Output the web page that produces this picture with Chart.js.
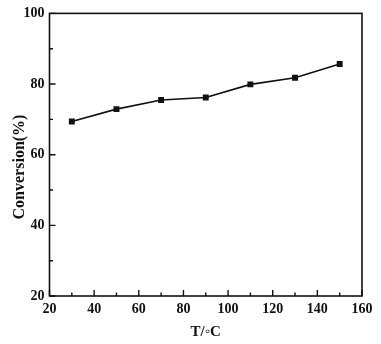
<!DOCTYPE html>
<html>
<head>
<meta charset="utf-8">
<script src="https://cdn.jsdelivr.net/npm/chart.js@4"></script>
<style>
  html, body { margin: 0; padding: 0; background: #fff; }
  #wrap { width: 381px; height: 344px; }
</style>
</head>
<body>
<div id="wrap"><canvas id="myChart"></canvas></div>
<script>
const temps = [30, 50, 70, 90, 110, 130, 150];
const conversion = [69.4, 72.9, 75.5, 76.2, 79.9, 81.8, 85.7];
const xTicks = [20, 40, 60, 80, 100, 120, 140, 160];
const yTicks = [20, 40, 60, 80, 100];
const xMinor = [30, 50, 70, 90, 110, 130, 150];
const yMinor = [30, 50, 70, 90];

const FONT = "'Liberation Serif', 'Times New Roman', serif";

// frame, inward ticks and axis titles
const framePlugin = {
  id: "frame",
  afterDraw(chart) {
    const { ctx, chartArea: a, scales } = chart;
    const x = scales.x, y = scales.y;
    ctx.save();
    ctx.strokeStyle = "#111";
    ctx.lineWidth = 1.6;
    ctx.strokeRect(a.left, a.top, a.right - a.left, a.bottom - a.top);

    ctx.lineWidth = 1.4;
    ctx.beginPath();
    xTicks.forEach((v) => {
      const px = x.getPixelForValue(v);
      ctx.moveTo(px, a.bottom);
      ctx.lineTo(px, a.bottom - 6);
    });
    xMinor.forEach((v) => {
      const px = x.getPixelForValue(v);
      ctx.moveTo(px, a.bottom);
      ctx.lineTo(px, a.bottom - 3.5);
    });
    yTicks.forEach((v) => {
      const py = y.getPixelForValue(v);
      ctx.moveTo(a.left, py);
      ctx.lineTo(a.left + 6, py);
    });
    yMinor.forEach((v) => {
      const py = y.getPixelForValue(v);
      ctx.moveTo(a.left, py);
      ctx.lineTo(a.left + 3.5, py);
    });
    ctx.stroke();

    ctx.fillStyle = "#111";
    ctx.textAlign = "center";
    ctx.textBaseline = "middle";
    ctx.font = "bold 15px " + FONT;
    ctx.fillText("T/\u25E6C", (a.left + a.right) / 2, 332);

    ctx.translate(20, 167);
    ctx.rotate(-Math.PI / 2);
    ctx.font = "bold 16px " + FONT;
    ctx.fillText("Conversion(%)", 0, 0);
    ctx.restore();
  },
};

new Chart(document.getElementById("myChart"), {
  type: "scatter",
  data: {
    datasets: [
      {
        data: temps.map((t, i) => ({ x: t, y: conversion[i] })),
        showLine: true,
        borderColor: "#111",
        borderWidth: 1.6,
        backgroundColor: "#111",
        pointStyle: "rect",
        pointRadius: 4.2,
        pointBorderWidth: 0,
      },
    ],
  },
  options: {
    responsive: true,
    maintainAspectRatio: false,
    animation: false,
    layout: { padding: { left: 0, right: 19, top: 12.5, bottom: 0 } },
    plugins: { legend: { display: false }, tooltip: { enabled: false } },
    scales: {
      x: {
        type: "linear",
        min: 20,
        max: 160,
        afterBuildTicks: (s) => { s.ticks = xTicks.map((v) => ({ value: v })); },
        afterFit: (s) => { s.height = 48; },
        grid: { display: false, drawTicks: false },
        border: { display: false },
        ticks: { color: "#111", padding: 5, font: { family: FONT, size: 14, weight: "bold" } },
      },
      y: {
        min: 20,
        max: 100,
        afterBuildTicks: (s) => { s.ticks = yTicks.map((v) => ({ value: v })); },
        afterFit: (s) => { s.width = 49.5; },
        grid: { display: false, drawTicks: false },
        border: { display: false },
        ticks: { color: "#111", padding: 5, font: { family: FONT, size: 14, weight: "bold" } },
      },
    },
  },
  plugins: [framePlugin],
});
</script>
</body>
</html>
